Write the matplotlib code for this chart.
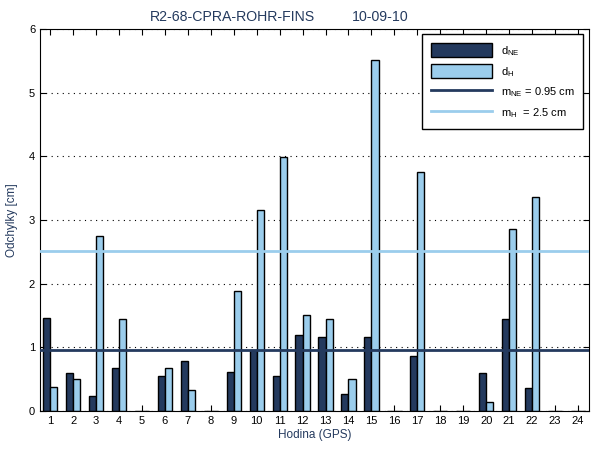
import matplotlib

matplotlib.use("Agg")
import matplotlib.pyplot as plt
import numpy as np

hours = list(range(1, 25))
d_ne = [1.46, 0.59, 0.23, 0.67, 0.0, 0.55, 0.78, 0.0, 0.61, 0.96, 0.55, 1.19,
        1.16, 0.26, 1.16, 0.0, 0.86, 0.0, 0.0, 0.59, 1.44, 0.36, 0.0, 0.0]
d_h = [0.37, 0.50, 2.75, 1.44, 0.0, 0.67, 0.33, 0.0, 1.88, 3.16, 3.99, 1.50,
       1.44, 0.51, 5.51, 0.0, 3.76, 0.0, 0.0, 0.14, 2.86, 3.36, 0.0, 0.0]
m_ne = 0.95
m_h = 2.52
m_ne_label = "0.95"
m_h_label = "2.5"
title_site = "R2-68-CPRA-ROHR-FINS"
title_date = "10-09-10"

DARK = "#243a5e"
LIGHT = "#9bcdec"

plt.rcParams["font.family"] = ["Liberation Sans", "DejaVu Sans"]
plt.rcParams["mathtext.fontset"] = "custom"
plt.rcParams["mathtext.rm"] = "Liberation Sans"

fig = plt.figure(figsize=(6, 4.5), dpi=100)
ax = fig.add_axes([0.0667, 0.0867, 0.915, 0.849])

x = np.array(hours)
w = 0.31
b_ne = ax.bar(x - w / 2, d_ne, width=w, color=DARK, edgecolor="black",
              linewidth=1.0, label=r"$\mathregular{d_{NE}}$", zorder=2)
b_h = ax.bar(x + w / 2, d_h, width=w, color=LIGHT, edgecolor="black",
             linewidth=1.0, label=r"$\mathregular{d_{H}}$", zorder=2)
l_ne = ax.axhline(m_ne, color=DARK, linewidth=2, zorder=3,
                  label=r"$\mathregular{m_{NE}}$" + f" = {m_ne_label} cm")
l_h = ax.axhline(m_h, color=LIGHT, linewidth=2, zorder=3,
                 label=r"$\mathregular{m_{H}}$" + f"  = {m_h_label} cm")

ax.set_xlim(0.56, 24.48)
ax.set_ylim(0, 6)
ax.set_xticks(hours)
ax.set_yticks(range(0, 7))
ax.tick_params(direction="in", top=True, right=True, labelsize=8, length=4)
ax.yaxis.grid(True, linestyle=(0, (1, 4)), color="black", linewidth=0.8)
ax.set_axisbelow(True)

ax.set_xlabel("Hodina (GPS)", color=DARK, fontsize=8.5, labelpad=2)
ax.set_ylabel("Odchylky [cm]", color=DARK, fontsize=8.5, labelpad=8)
fig.text(150 / 600, 1 - 17 / 450, title_site, color=DARK, fontsize=10.2,
         ha="left", va="center")
fig.text(352 / 600, 1 - 17 / 450, title_date, color=DARK, fontsize=10.2,
         ha="left", va="center")

leg = ax.legend([b_ne, b_h, l_ne, l_h],
                [h.get_label() for h in (b_ne, b_h, l_ne, l_h)],
                loc="upper right", fontsize=8, fancybox=False, framealpha=1,
                edgecolor="black", handlelength=5.5, handleheight=1.5,
                borderpad=0.8, labelspacing=0.6)
leg.get_frame().set_linewidth(1.0)

fig.savefig("out.png", dpi=100)
